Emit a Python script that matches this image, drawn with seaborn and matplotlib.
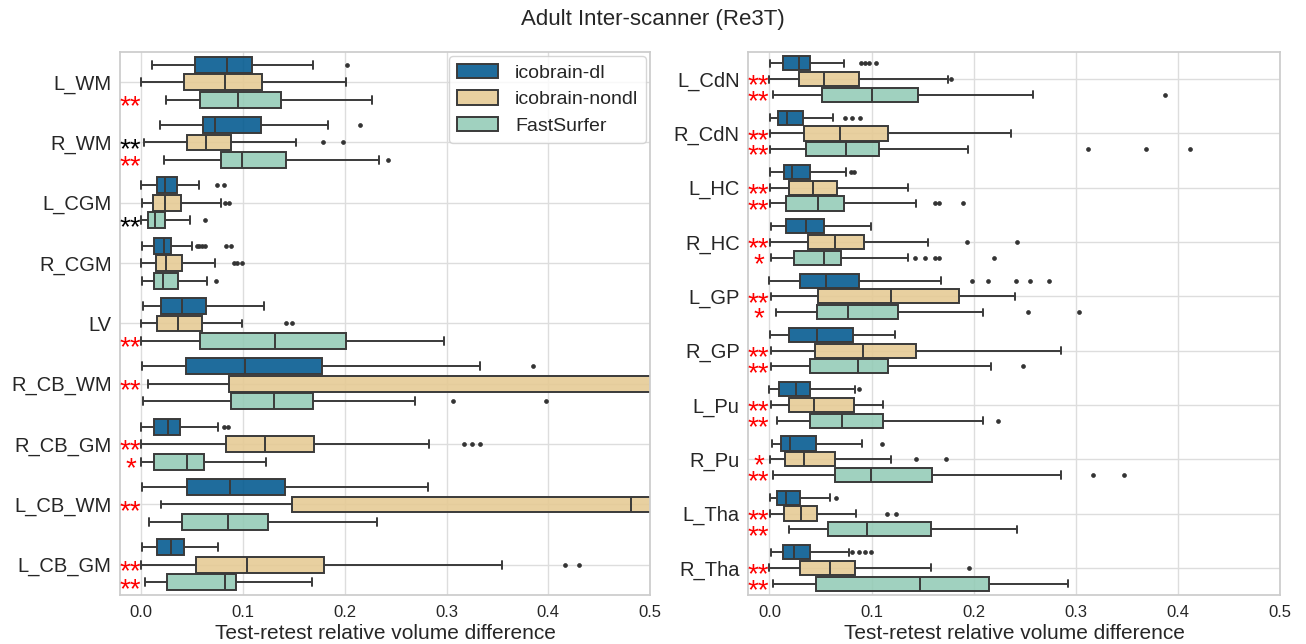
import numpy as np
import pandas as pd
import matplotlib
matplotlib.use("Agg")
import matplotlib.pyplot as plt
import matplotlib.transforms as mtransforms
from matplotlib.font_manager import FontProperties
import seaborn as sns

# ---------------- data ----------------
methods = ["icobrain-dl", "icobrain-nondl", "FastSurfer"]

left_regions = ["L_WM", "R_WM", "L_CGM", "R_CGM", "LV",
                "R_CB_WM", "R_CB_GM", "L_CB_WM", "L_CB_GM"]
right_regions = ["L_CdN", "R_CdN", "L_HC", "R_HC", "L_GP",
                 "R_GP", "L_Pu", "R_Pu", "L_Tha", "R_Tha"]

# box statistics per region: (whisker low, Q1, median, Q3, whisker high)
left_dl = [(0.010, 0.053, 0.084, 0.109, 0.169), (0.018, 0.061, 0.072, 0.118, 0.183),
           (0.0, 0.0154, 0.023, 0.035, 0.0565), (0.001, 0.0125, 0.0224, 0.0287, 0.050),
           (0.0017, 0.019, 0.0395, 0.0636, 0.121), (0.001, 0.0436, 0.102, 0.1775, 0.3325),
           (0.0, 0.0125, 0.026, 0.0378, 0.075), (0.001, 0.0453, 0.0873, 0.1413, 0.282),
           (0.001, 0.0158, 0.029, 0.0424, 0.0756)]
left_dl_fliers = [[0.202], [0.215], [0.074, 0.0815],
                  [0.0545, 0.057, 0.060, 0.063, 0.083, 0.0885], [], [0.385],
                  [0.081, 0.085], [], []]

left_nondl = [(0.0, 0.042, 0.082, 0.119, 0.2016), (0.0025, 0.0445, 0.064, 0.088, 0.152),
              (0.001, 0.0116, 0.0237, 0.0387, 0.078), (0.0, 0.014, 0.0245, 0.0395, 0.0727),
              (0.0, 0.015, 0.036, 0.0594, 0.0985), (0.0067, 0.0864, 0.56, 0.68, 0.90),
              (0.0, 0.083, 0.122, 0.170, 0.2826), (0.019, 0.148, 0.481, 0.62, 0.85),
              (0.0, 0.054, 0.1043, 0.180, 0.3545)]
left_nondl_fliers = [[], [0.179, 0.198], [0.082, 0.086], [0.0906, 0.094, 0.099],
                     [0.142, 0.148], [], [0.3175, 0.3254, 0.333], [], [0.416, 0.430]]

left_fs = [(0.024, 0.058, 0.095, 0.137, 0.2265), (0.022, 0.0786, 0.099, 0.142, 0.234),
           (0.0, 0.0067, 0.0137, 0.0237, 0.0478), (0.001, 0.0129, 0.0216, 0.036, 0.0644),
           (0.0, 0.0574, 0.131, 0.201, 0.2976), (0.0017, 0.088, 0.1305, 0.1687, 0.269),
           (0.0, 0.0125, 0.0445, 0.062, 0.123), (0.0075, 0.040, 0.085, 0.1247, 0.232),
           (0.004, 0.0254, 0.0823, 0.0935, 0.168)]
left_fs_fliers = [[], [0.242], [0.063], [0.073], [], [0.306, 0.398], [], [], []]

right_dl = [(0.001, 0.013, 0.029, 0.040, 0.0735), (0.001, 0.008, 0.0175, 0.0325, 0.062),
            (0.001, 0.0142, 0.022, 0.040, 0.075), (0.0016, 0.016, 0.0357, 0.0536, 0.0995),
            (0.0, 0.0297, 0.0552, 0.0877, 0.168), (0.001, 0.019, 0.0463, 0.0816, 0.1227),
            (0.0, 0.0093, 0.0264, 0.040, 0.084), (0.0024, 0.011, 0.0203, 0.0459, 0.0906),
            (0.001, 0.0073, 0.0167, 0.030, 0.059), (0.0016, 0.0134, 0.0236, 0.040, 0.078)]
right_dl_fliers = [[0.090, 0.094, 0.0975, 0.104], [0.0743, 0.081, 0.0885],
                   [0.0796, 0.083], [], [0.198, 0.2145, 0.241, 0.2555, 0.2738], [],
                   [0.0873], [0.110], [0.065], [0.081, 0.0877, 0.094, 0.0995]]

right_nondl = [(0.0, 0.0288, 0.053, 0.088, 0.175), (0.001, 0.0337, 0.0695, 0.116, 0.237),
               (0.001, 0.0187, 0.0426, 0.066, 0.136), (0.001, 0.0378, 0.0646, 0.093, 0.1548),
               (0.0016, 0.0475, 0.1186, 0.1856, 0.2405), (0.002, 0.0447, 0.0914, 0.1434, 0.286),
               (0.0016, 0.0187, 0.0435, 0.0825, 0.111), (0.001, 0.015, 0.034, 0.0642, 0.119),
               (0.001, 0.0146, 0.031, 0.047, 0.085), (0.0, 0.030, 0.0597, 0.0837, 0.158)]
right_nondl_fliers = [[0.178], [], [], [0.1933, 0.2425], [], [], [],
                      [0.1434, 0.1726], [0.115, 0.1243], [0.1958]]

right_fs = [(0.0037, 0.0516, 0.1007, 0.145, 0.258), (0.001, 0.0357, 0.075, 0.1076, 0.194),
            (0.001, 0.0167, 0.048, 0.073, 0.144), (0.0016, 0.0236, 0.0532, 0.0703, 0.136),
            (0.0069, 0.0463, 0.0768, 0.126, 0.209), (0.0016, 0.040, 0.0865, 0.116, 0.217),
            (0.0077, 0.040, 0.0715, 0.111, 0.209), (0.0037, 0.0646, 0.099, 0.159, 0.2855),
            (0.0195, 0.0577, 0.0959, 0.1584, 0.2425), (0.003, 0.0459, 0.1474, 0.2149, 0.292)]
right_fs_fliers = [[0.3875], [0.312, 0.369, 0.412], [0.162, 0.166, 0.190],
                   [0.143, 0.152, 0.1625, 0.166, 0.2197], [0.253, 0.3034], [0.2486],
                   [0.2234], [0.317, 0.3477], [], []]

# significance marks (vs icobrain-dl); "reverse" marks are drawn in black
left_sig_nondl = ["", "**", "", "", "", "**", "**", "**", "**"]
left_rev_nondl = [False, True, False, False, False, False, False, False, False]
left_sig_fs = ["**", "**", "**", "", "**", "", "*", "", "**"]
left_rev_fs = [False, False, True, False, False, False, False, False, False]
right_sig_nondl = ["**", "**", "**", "**", "**", "**", "**", "*", "**", "**"]
right_rev_nondl = [False] * 10
right_sig_fs = ["**", "**", "**", "*", "*", "**", "**", "**", "**", "**"]
right_rev_fs = [False] * 10

xticks = [0.0, 0.1, 0.2, 0.3, 0.4, 0.5]
title = "Adult Inter-scanner (Re3T)"
xlabel = "Test-retest relative volume difference"


def sample_from_stats(stats, fliers):
    """Build a small sample whose boxplot statistics equal the given ones."""
    lo, q1, med, q3, hi = stats
    low_f = sorted(f for f in fliers if f < lo)
    high_f = sorted(f for f in fliers if f > hi)
    k = max(len(low_f), len(high_f)) + 1
    vals = (low_f + [lo] * (k - len(low_f)) + [q1] * k + [med] * k + [q3]
            + [hi] * (k - len(high_f)) + high_f)
    return vals


def build_df(regions, groups):
    rows = []
    for method, (stats, fl) in zip(methods, groups):
        for reg, st, f in zip(regions, stats, fl):
            for v in sample_from_stats(st, f):
                rows.append((reg, method, v))
    return pd.DataFrame(rows, columns=["region", "method", "value"])


df_left = build_df(left_regions, [(left_dl, left_dl_fliers),
                                  (left_nondl, left_nondl_fliers),
                                  (left_fs, left_fs_fliers)])
df_right = build_df(right_regions, [(right_dl, right_dl_fliers),
                                    (right_nondl, right_nondl_fliers),
                                    (right_fs, right_fs_fliers)])

# ---------------- style ----------------
sns.set_theme(style="whitegrid")
plt.rcParams["font.family"] = ["Liberation Sans", "DejaVu Sans"]

alpha = 0.88
palette = {"icobrain-dl": (0 / 255, 88 / 255, 142 / 255),
           "icobrain-nondl": (229 / 255, 202 / 255, 147 / 255),
           "FastSurfer": (147 / 255, 203 / 255, 182 / 255)}
edge = "#3a3a3a"
width = 0.87
star_fs = 20

fig = plt.figure(figsize=(13.06, 6.44), dpi=100)
ax1 = fig.add_axes([120 / 1306, 1 - 595 / 644, 530 / 1306, 543 / 644])
ax2 = fig.add_axes([748 / 1306, 1 - 595 / 644, 532 / 1306, 543 / 644])

renderer = fig.canvas.get_renderer()
star_prop = FontProperties(family="Liberation Sans", size=star_fs)
lp_w, lp_h, lp_d = renderer.get_text_width_height_descent("lp", star_prop, ismath=False)

panels = [
    (ax1, df_left, left_regions, [(left_sig_nondl, left_rev_nondl, 1), (left_sig_fs, left_rev_fs, 2)], True),
    (ax2, df_right, right_regions, [(right_sig_nondl, right_rev_nondl, 1), (right_sig_fs, right_rev_fs, 2)], False),
]

for ax, df, regions, sigs, show_legend in panels:
    sns.boxplot(data=df, x="value", y="region", hue="method", order=regions,
                hue_order=methods, palette=palette, saturation=1, width=width,
                gap=0.1, linewidth=1.4, linecolor=edge, whis=1.5,
                legend=show_legend, ax=ax)
    for p in ax.patches:
        fc = p.get_facecolor()
        p.set_facecolor((fc[0], fc[1], fc[2], alpha))
    for ln in ax.lines:
        if ln.get_marker() not in (None, "None", "", " "):
            ln.set_marker("o")
            ln.set_markersize(2.8)
            ln.set_markerfacecolor("#333333")
            ln.set_markeredgecolor("#333333")
            ln.set_markeredgewidth(0.5)
    ax.set_xlim(-0.021, 0.5)
    ax.set_xticks(xticks)
    ax.set_xticklabels([f"{t:.1f}" for t in xticks])
    ax.set_xlabel(xlabel, fontsize=15, labelpad=3)
    ax.set_ylabel("")
    ax.tick_params(axis="both", length=0)
    ax.tick_params(axis="y", labelsize=14.5, pad=6)
    ax.tick_params(axis="x", labelsize=12, pad=7)
    for s in ax.spines.values():
        s.set_color("#cccccc")
    ax.grid(True, color="#dddddd", linewidth=1)

    # significance stars: one text block per region and colour
    step = width / len(methods)
    y_px = ax.get_position().height * fig.get_figheight() * fig.dpi / len(regions)
    step_px = step * y_px
    ls = (step_px - lp_d) / (lp_h - lp_d)
    star_tr = mtransforms.offset_copy(ax.transData, fig=fig, x=0,
                                      y=-0.52 * star_fs, units="points")
    for i in range(len(regions)):
        entries = [(h, sig[i], rev[i]) for sig, rev, h in sigs if sig[i]]
        blocks = []
        for h, txt, r in entries:
            if blocks and blocks[-1][2] == r and blocks[-1][0] + len(blocks[-1][1]) == h:
                blocks[-1][1].append(txt)
            else:
                blocks.append([h, [txt], r])
        for h0, lines, r in blocks:
            h_last = h0 + len(lines) - 1
            ax.text(-0.0105, i + (h_last - 1) * step, "\n".join(lines),
                    color="black" if r else "red", fontproperties=star_prop,
                    ha="center", va="baseline", multialignment="center",
                    linespacing=ls, transform=star_tr)

leg = ax1.get_legend()
for hnd in leg.legend_handles:
    fc = hnd.get_facecolor()
    hnd.set_facecolor((fc[0], fc[1], fc[2], alpha))
sns.move_legend(ax1, "upper right", title=None, fontsize=14,
                bbox_to_anchor=(1.0, 1.0), borderaxespad=0.2,
                handlelength=2.1, handleheight=0.75, labelspacing=0.45,
                handletextpad=0.9, frameon=True)

fig.text(0.5, 1 - 20 / 644, title, ha="center", va="center", fontsize=16,
         color="#262626")

fig.savefig("out.png", dpi=100)
